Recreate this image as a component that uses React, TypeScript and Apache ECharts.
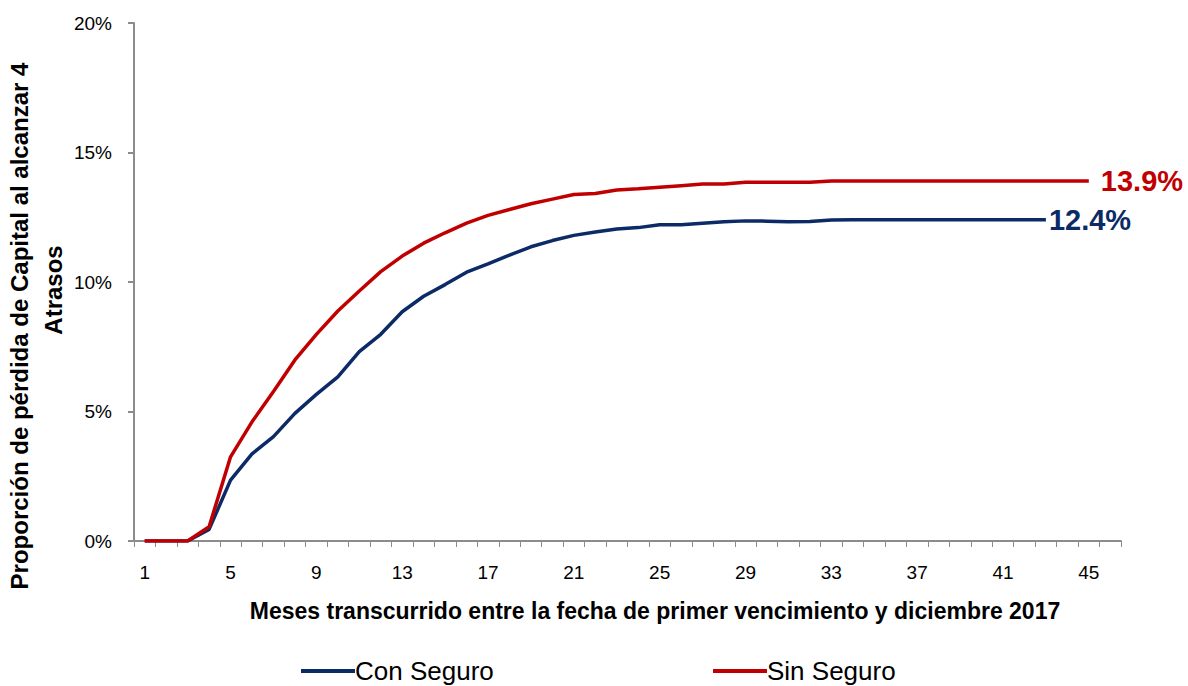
import React, { useEffect, useRef } from "react";
import * as echarts from "echarts";

const categories = [
  "1", "2", "3", "4", "5", "6", "7", "8", "9", "10",
  "11", "12", "13", "14", "15", "16", "17", "18", "19", "20",
  "21", "22", "23", "24", "25", "26", "27", "28", "29", "30",
  "31", "32", "33", "34", "35", "36", "37", "38", "39", "40",
  "41", "42", "43", "44", "45", "46",
];

const conSeguro = [
  0, 0, 0, 0.45, 2.35, 3.36, 4.03, 4.93, 5.66, 6.34,
  7.31, 7.98, 8.85, 9.45, 9.9, 10.38, 10.7, 11.04, 11.36, 11.6,
  11.8, 11.93, 12.05, 12.1, 12.21, 12.21, 12.27, 12.33, 12.36, 12.35,
  12.33, 12.34, 12.39, 12.4, 12.4, 12.4, 12.4, 12.4, 12.4, 12.4,
  12.4, 12.4, 12.4,
];

const sinSeguro = [
  0, 0, 0, 0.55, 3.25, 4.6, 5.77, 6.99, 7.98, 8.88,
  9.65, 10.4, 11.0, 11.5, 11.9, 12.27, 12.57, 12.8, 13.02, 13.2,
  13.38, 13.42, 13.55, 13.6, 13.66, 13.72, 13.78, 13.78, 13.85, 13.85,
  13.85, 13.85, 13.9, 13.9, 13.9, 13.9, 13.9, 13.9, 13.9, 13.9,
  13.9, 13.9, 13.9, 13.9, 13.9,
];

const yTicks = { min: 0, max: 20, interval: 5 };

const BLUE = "#0b2a66";
const RED = "#c00000";
const FONT = "'Liberation Sans', Arial, sans-serif";

export default function App() {
  const ref = useRef<HTMLDivElement>(null);

  useEffect(() => {
    if (!ref.current) return;
    const chart = echarts.init(ref.current, undefined, { renderer: "svg" });
    const legendText = { fontSize: 26, color: "#000", fontFamily: FONT, padding: [0, 0, 0, -5] };
    chart.setOption({
      animation: false,
      backgroundColor: "#ffffff",
      textStyle: { fontFamily: FONT },
      grid: { left: 134, right: 67, top: 23, bottom: 145, containLabel: false },
      legend: [
        {
          data: ["Con Seguro"],
          left: 296,
          top: 653,
          icon: "rect",
          itemWidth: 54,
          itemHeight: 4,
          itemGap: 0,
          textStyle: legendText,
        },
        {
          data: ["Sin Seguro"],
          left: 708,
          top: 653,
          icon: "rect",
          itemWidth: 54,
          itemHeight: 4,
          itemGap: 0,
          textStyle: legendText,
        },
      ],
      xAxis: {
        type: "category",
        data: categories,
        boundaryGap: true,
        axisLine: { lineStyle: { color: "#8c8c8c", width: 2 } },
        axisTick: { show: true, interval: 0, length: 6, lineStyle: { color: "#8c8c8c", width: 1 } },
        axisLabel: { interval: 3, margin: 22, fontSize: 19, color: "#000", fontFamily: FONT },
        splitLine: { show: false },
      },
      yAxis: {
        type: "value",
        min: yTicks.min,
        max: yTicks.max,
        interval: yTicks.interval,
        axisLine: { show: true, lineStyle: { color: "#8c8c8c", width: 2 } },
        axisTick: { show: true, length: 6, lineStyle: { color: "#8c8c8c", width: 2 } },
        axisLabel: { margin: 22, fontSize: 19, color: "#000", fontFamily: FONT, formatter: (v: number) => `${v}%` },
        splitLine: { show: false },
      },
      graphic: [
        {
          type: "text",
          x: 19,
          y: 326,
          rotation: Math.PI / 2,
          style: {
            text: "Proporción de pérdida de Capital al alcanzar 4",
            font: `bold 24px ${FONT}`,
            fill: "#000",
            textAlign: "center",
            textVerticalAlign: "middle",
          },
        },
        {
          type: "text",
          x: 53,
          y: 290,
          rotation: Math.PI / 2,
          style: {
            text: "Atrasos",
            font: `bold 24px ${FONT}`,
            fill: "#000",
            textAlign: "center",
            textVerticalAlign: "middle",
          },
        },
        {
          type: "text",
          x: 655,
          y: 611,
          style: {
            text: "Meses transcurrido entre la fecha de primer vencimiento y diciembre 2017",
            font: `bold 23px ${FONT}`,
            fill: "#000",
            textAlign: "center",
            textVerticalAlign: "middle",
          },
        },
      ],
      series: [
        {
          name: "Con Seguro",
          type: "line",
          data: conSeguro,
          showSymbol: false,
          symbol: "none",
          lineStyle: { color: BLUE, width: 3.5 },
          itemStyle: { color: BLUE },
          endLabel: {
            show: true,
            distance: 3,
            formatter: (p: any) => `${p.value.toFixed(1)}%`,
            fontSize: 29,
            fontWeight: "bold",
            color: BLUE,
            fontFamily: FONT,
          },
        },
        {
          name: "Sin Seguro",
          type: "line",
          data: sinSeguro,
          showSymbol: false,
          symbol: "none",
          lineStyle: { color: RED, width: 3.5 },
          itemStyle: { color: RED },
          endLabel: {
            show: true,
            distance: 12,
            formatter: (p: any) => `${p.value.toFixed(1)}%`,
            fontSize: 29,
            fontWeight: "bold",
            color: RED,
            fontFamily: FONT,
          },
        },
      ],
    });
    return () => chart.dispose();
  }, []);

  return <div ref={ref} style={{ width: 1188, height: 686, position: "absolute", left: 0, top: 0 }} />;
}
